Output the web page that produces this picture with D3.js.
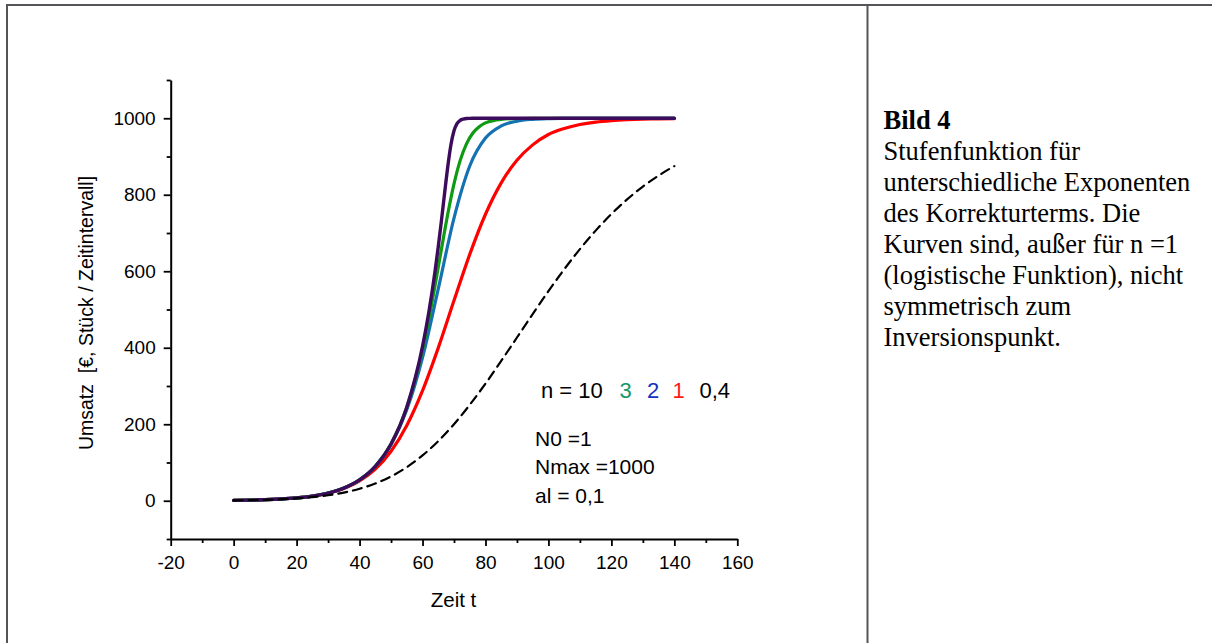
<!DOCTYPE html>
<html>
<head>
<meta charset="utf-8">
<script src="https://cdn.jsdelivr.net/npm/d3@7"></script>
<style>
  html, body { margin: 0; padding: 0; background: #fff; }
  svg { display: block; }
</style>
</head>
<body>
<svg id="chart" width="1212" height="643"></svg>
<script>
// Time grids (t) for the sampled curves
const tStep5 = [0, 5, 10, 15, 20, 25, 30, 35, 40, 45, 50, 55, 60, 65, 70, 75, 80, 85, 90, 95, 100, 105, 110, 115, 120, 125, 130, 135, 140];
const tN3 = [0, 5, 10, 15, 20, 25, 30, 35, 40, 45, 50, 55, 60, 62, 64, 66, 68, 70, 72, 74, 76, 78, 80, 85, 90, 95, 100, 105, 110, 115, 120, 125, 130, 135, 140];
const tN10 = [0, 5, 10, 15, 20, 25, 30, 35, 40, 45, 50, 55, 60, 62, 64, 65, 66, 67, 68, 69, 70, 71, 72, 73, 74, 75, 76, 78, 80, 85, 90, 95, 100, 105, 110, 115, 120, 125, 130, 135, 140];

// Umsatz values for each exponent n
const umsatzN10 = [1.0, 1.6, 2.7, 4.5, 7.4, 12.2, 20.1, 33.1, 54.6, 90.0, 148.4, 244.7, 403.4, 492.7, 601.5, 664.0, 731.8, 802.9, 871.9, 929.4, 967.1, 986.4, 994.8, 998.0, 999.3, 999.7, 999.9, 1000, 1000, 1000, 1000, 1000, 1000, 1000, 1000, 1000, 1000, 1000, 1000, 1000, 1000];
const umsatzN3 = [1.0, 1.6, 2.7, 4.5, 7.4, 12.2, 20.1, 33.1, 54.6, 90.0, 148.3, 243.5, 395.0, 474.5, 563.6, 657.5, 748.8, 828.5, 890.5, 933.7, 961.4, 978.1, 987.8, 997.2, 999.4, 999.9, 1000, 1000, 1000, 1000, 1000, 1000, 1000, 1000, 1000];
const umsatzN2 = [1.0, 1.6, 2.7, 4.5, 7.4, 12.2, 20.1, 33.1, 54.5, 89.7, 146.8, 237.7, 374.1, 553.8, 738.9, 875.1, 948.1, 979.9, 992.5, 997.2, 999.0, 999.6, 999.9, 999.9, 1000, 1000, 1000, 1000, 1000];
const umsatzN1 = [1.0, 1.6, 2.7, 4.5, 7.3, 12.0, 19.7, 32.1, 51.8, 82.7, 129.4, 196.8, 287.7, 399.7, 523.3, 644.1, 749.0, 831.1, 890.2, 930.4, 957.6, 973.2, 983.6, 990.0, 993.9, 996.3, 997.8, 998.6, 999.2];
const umsatzN04 = [1.0, 1.6, 2.5, 4.0, 6.1, 9.4, 14.3, 21.3, 31.3, 45.1, 63.6, 87.9, 118.5, 155.9, 200.2, 250.7, 306.3, 365.6, 426.8, 488.2, 548.0, 605.0, 657.9, 706.2, 749.6, 787.9, 821.3, 850.2, 874.9];

// Axis ticks
const xMajorTicks = [-20, 0, 20, 40, 60, 80, 100, 120, 140, 160];
const xMinorTicks = [-10, 10, 30, 50, 70, 90, 110, 130, 150];
const yMajorTicks = [0, 200, 400, 600, 800, 1000];
const yMinorTicks = [-100, 100, 300, 500, 700, 900, 1100];

// Legend text pieces
const legendLabels = ["n = 10", "3", "2", "1", "0,4"];
const paramLines = ["N0 =1", "Nmax =1000", "al = 0,1"];
const captionTitle = "Bild 4";
const captionLines = [
  "Stufenfunktion für",
  "unterschiedliche Exponenten",
  "des Korrekturterms. Die",
  "Kurven sind, außer für n =1",
  "(logistische Funktion), nicht",
  "symmetrisch zum",
  "Inversionspunkt."
];

const svg = d3.select("#chart");
const sans = "'Liberation Sans', Arial, sans-serif";
const serif = "'Liberation Serif', 'Times New Roman', serif";

// Table frame
const frame = svg.append("g").attr("stroke", "#555559").attr("stroke-width", 2);
frame.append("line").attr("x1", 7).attr("x2", 1212).attr("y1", 5).attr("y2", 5);
frame.append("line").attr("x1", 7).attr("x2", 7).attr("y1", 4).attr("y2", 643);
frame.append("line").attr("x1", 867.5).attr("x2", 867.5).attr("y1", 4).attr("y2", 643);

// Scales
const x = d3.scaleLinear().domain([-20, 160]).range([170.7, 737.3]);
const y = d3.scaleLinear().domain([-100, 1100]).range([539, 80]);

function styleAxis(g) {
  g.selectAll("path.domain").attr("stroke", "#000").attr("stroke-width", 2);
  g.selectAll(".tick line").attr("stroke", "#000").attr("stroke-width", 1.8);
  g.selectAll(".tick text").attr("fill", "#000").attr("font-family", sans).attr("font-size", 19);
}

// X axis
const gx = svg.append("g").attr("transform", `translate(0,${y(-100)})`);
gx.call(d3.axisBottom(x).tickValues(xMajorTicks).tickSize(7).tickSizeOuter(0).tickPadding(10).tickFormat(d3.format("d")));
styleAxis(gx);
const gxMinor = svg.append("g").attr("transform", `translate(0,${y(-100)})`);
gxMinor.call(d3.axisBottom(x).tickValues(xMinorTicks).tickSize(4).tickSizeOuter(0).tickFormat(""));
gxMinor.select("path.domain").remove();
styleAxis(gxMinor);
gx.selectAll(".tick text").text(d => d < 0 ? "-" + Math.abs(d) : d);

// Y axis
const gy = svg.append("g").attr("transform", `translate(${x(-20)},0)`);
gy.call(d3.axisLeft(y).tickValues(yMajorTicks).tickSize(7).tickSizeOuter(0).tickPadding(8).tickFormat(d3.format("d")));
styleAxis(gy);
const gyMinor = svg.append("g").attr("transform", `translate(${x(-20)},0)`);
gyMinor.call(d3.axisLeft(y).tickValues(yMinorTicks).tickSize(4).tickSizeOuter(0).tickFormat(""));
gyMinor.select("path.domain").remove();
styleAxis(gyMinor);

// Axis titles
svg.append("text")
  .attr("x", 453.5).attr("y", 607)
  .attr("text-anchor", "middle")
  .attr("font-family", sans).attr("font-size", 20.5)
  .text("Zeit t");
svg.append("text")
  .attr("transform", "translate(93,313) rotate(-90)")
  .attr("text-anchor", "middle")
  .attr("font-family", sans).attr("font-size", 19.5)
  .style("white-space", "pre")
  .text("Umsatz  [€, Stück / Zeitintervall]");

// Curves
const line = d3.line()
  .x(d => x(d[0]))
  .y(d => y(d[1]))
  .curve(d3.curveMonotoneX);

const curves = [
  { t: tStep5, v: umsatzN1, color: "#ff0000", width: 3.2, dash: null },
  { t: tStep5, v: umsatzN2, color: "#1472b2", width: 3.2, dash: null },
  { t: tN3, v: umsatzN3, color: "#0f9a14", width: 3.2, dash: null },
  { t: tN10, v: umsatzN10, color: "#3d0b5c", width: 3.4, dash: null },
  { t: tStep5, v: umsatzN04, color: "#000000", width: 2.2, dash: "9,6" }
];

svg.append("g").selectAll("path")
  .data(curves)
  .join("path")
  .attr("d", c => line(c.t.map((t, i) => [t, c.v[i]])))
  .attr("fill", "none")
  .attr("stroke", c => c.color)
  .attr("stroke-width", c => c.width)
  .attr("stroke-dasharray", c => c.dash)
  .attr("stroke-linejoin", "round")
  .attr("stroke-linecap", "round");

// Legend for the exponents
const legendColors = ["#000000", "#16976a", "#1432c0", "#ff1a1a", "#000000"];
const legendX = [541, 619.5, 647, 672.5, 699.5];
const legend = svg.append("text")
  .attr("y", 397.5)
  .attr("font-family", sans).attr("font-size", 22);
legend.selectAll("tspan")
  .data(legendLabels)
  .join("tspan")
  .attr("x", (d, i) => legendX[i])
  .attr("fill", (d, i) => legendColors[i])
  .text(d => d);

// Model parameters
svg.append("g").selectAll("text")
  .data(paramLines)
  .join("text")
  .attr("x", 535)
  .attr("y", (d, i) => 446 + i * 28.3)
  .attr("font-family", sans).attr("font-size", 21)
  .attr("fill", "#000")
  .text(d => d);

// Caption
svg.append("text")
  .attr("x", 883.5).attr("y", 128.5)
  .attr("font-family", serif).attr("font-size", 26.5).attr("font-weight", "bold")
  .text(captionTitle);
svg.append("g").selectAll("text")
  .data(captionLines)
  .join("text")
  .attr("x", 883.5)
  .attr("y", (d, i) => 159.5 + i * 31)
  .attr("font-family", serif).attr("font-size", 26.5)
  .attr("fill", "#000")
  .text(d => d);
</script>
</body>
</html>
